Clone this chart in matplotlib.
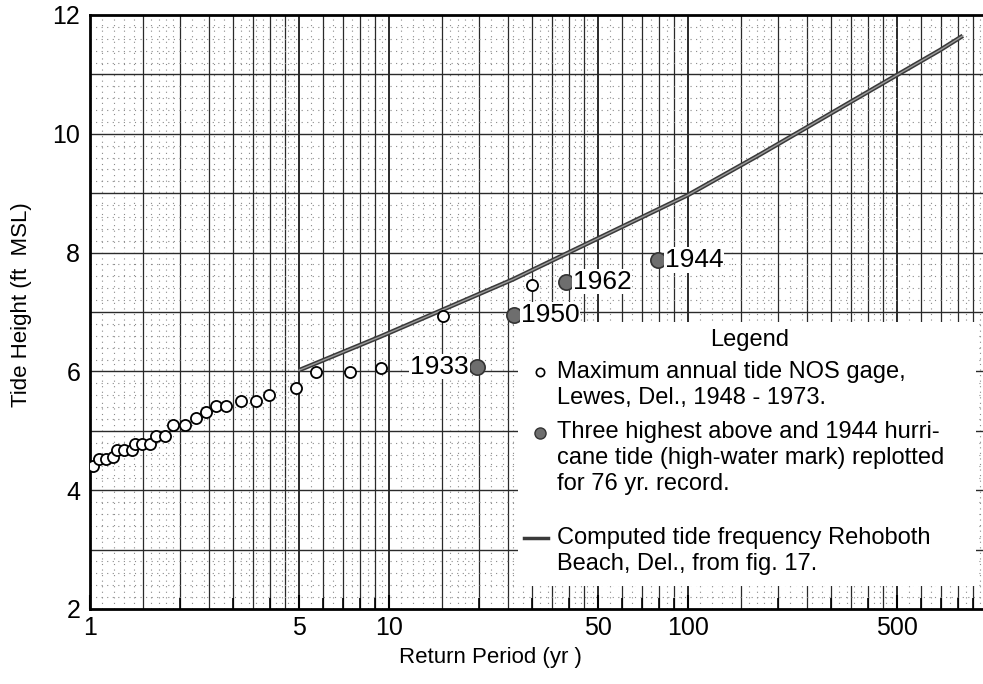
import numpy as np
import matplotlib
matplotlib.use('Agg')
import matplotlib.pyplot as plt
from matplotlib.patches import Rectangle

plt.rcParams['font.family'] = ['Liberation Sans', 'DejaVu Sans']

# Максимальные годовые уровни (открытые кружки)
annual_T = [1.02, 1.07, 1.13, 1.19, 1.23, 1.30, 1.38, 1.41, 1.49, 1.59, 1.66, 1.78,
            1.90, 2.08, 2.26, 2.44, 2.63, 2.86, 3.21, 3.58, 3.98, 4.88, 5.70, 7.40,
            9.38, 15.1, 30.0]
annual_H = [4.41, 4.53, 4.53, 4.56, 4.68, 4.68, 4.68, 4.78, 4.78, 4.78, 4.92, 4.92,
            5.10, 5.10, 5.21, 5.32, 5.42, 5.42, 5.50, 5.50, 5.61, 5.72, 5.99, 5.99,
            6.05, 6.94, 7.45]

# Пересчитанные максимумы (закрашенные кружки)
storm_years = ['1933', '1950', '1962', '1944']
storm_T = [19.7, 26.2, 39.0, 79.2]
storm_H = [6.08, 6.95, 7.51, 7.88]

# Расчётная кривая
curve_T = [5.0, 9.3, 15.0, 26.0, 100.0, 174.0, 512.0, 697.0, 830.0]
curve_H = [6.02, 6.58, 7.03, 7.55, 8.97, 9.65, 11.02, 11.41, 11.65]

xticks = [1, 5, 10, 50, 100, 500]
yticks = [2, 4, 6, 8, 10, 12]

W, H = 983, 684
fig = plt.figure(figsize=(W / 100, H / 100), dpi=100)
ax = fig.add_axes([90 / W, 75 / H, 897 / W, 594 / H])
ax.set_xscale('log')
ax.set_xlim(1, 1000)
ax.set_ylim(2, 12)


def fpx(x, y):
    return x / W, 1 - y / H


# сетка логарифмической бумаги
solid_m = [1, 1.5, 2, 2.5, 3, 3.5, 4, 4.5, 5, 6, 7, 8, 9]
dot_m = [1.1, 1.2, 1.3, 1.4, 1.6, 1.7, 1.8, 1.9, 2.2, 2.4, 2.6, 2.8, 3.2, 3.4,
         3.6, 3.8, 4.2, 4.4, 4.6, 4.8, 5.5, 6.5, 7.5, 8.5, 9.5]
for d in [1, 10, 100]:
    for m in dot_m:
        ax.axvline(d * m, color='#8a8a8a', lw=0.8, ls=(0, (1, 4)), zorder=1)
    for m in solid_m:
        w = 1.4 if m in (1, 5) else 0.9
        ax.axvline(d * m, color='#2a2a2a', lw=w, zorder=1)
for v in np.arange(2.2, 12, 0.2):
    if abs(v - round(v)) > 0.01:
        ax.axhline(v, color='#8a8a8a', lw=0.8, ls=(0, (1, 4)), zorder=1)
for v in range(3, 12):
    ax.axhline(v, color='#2a2a2a', lw=1.0, zorder=1)

# данные
ax.plot(curve_T, curve_H, color='#3a3a3a', lw=3.2, zorder=3, solid_capstyle='butt')
ax.plot(curve_T, curve_H, color='#9a9a9a', lw=1.0, zorder=3)
ax.plot(annual_T, annual_H, 'o', ms=8, mfc='white', mec='black', mew=1.3, zorder=4)
ax.plot(storm_T, storm_H, 'o', ms=11, mfc='#6e6e6e', mec='#333333', mew=1.2, zorder=4)
for yr, t, h in zip(storm_years, storm_T, storm_H):
    if yr == '1933':
        ax.annotate(yr, (t, h), xytext=(-6, 0), textcoords='offset points',
                    ha='right', va='center', fontsize=19, zorder=5,
                    bbox=dict(fc='white', ec='none', pad=0.5))
    else:
        ax.annotate(yr, (t, h), xytext=(5, 0), textcoords='offset points',
                    ha='left', va='center', fontsize=19, zorder=5,
                    bbox=dict(fc='white', ec='none', pad=0.5))

# легенда
ax.add_patch(Rectangle(((518 - 90) / 897, (609 - 586) / 594), (976 - 518) / 897,
                       (586 - 322) / 594, transform=ax.transAxes,
                       fc='white', ec='none', zorder=2))
fs = 17
ls = 1.22
fig.text(*fpx(750, 340), 'Legend', ha='center', va='center', fontsize=fs)
fig.text(*fpx(557, 385), 'Maximum annual tide NOS gage,\nLewes, Del., 1948 - 1973.',
         ha='left', va='center', fontsize=fs, linespacing=ls)
fig.text(*fpx(557, 458), 'Three highest above and 1944 hurri-\n'
         'cane tide (high-water mark) replotted\nfor 76 yr. record.',
         ha='left', va='center', fontsize=fs, linespacing=ls)
fig.text(*fpx(557, 551), 'Computed tide frequency Rehoboth\nBeach, Del., from fig. 17.',
         ha='left', va='center', fontsize=fs, linespacing=ls)
fig.add_artist(plt.Line2D([fpx(540, 0)[0]], [fpx(0, 372)[1]], marker='o', ms=6,
                          mfc='white', mec='black', mew=1.2))
fig.add_artist(plt.Line2D([fpx(540, 0)[0]], [fpx(0, 433)[1]], marker='o', ms=8,
                          mfc='#6e6e6e', mec='#333333', mew=1.0))
fig.add_artist(plt.Line2D([fpx(524, 0)[0], fpx(548, 0)[0]], [fpx(0, 538)[1]] * 2,
                          color='#3a3a3a', lw=2.5))

# оси
ax.set_xticks(xticks)
ax.set_xticklabels([str(t) for t in xticks])
ax.set_xticks([d * m for d in [1, 10, 100] for m in range(2, 10)], minor=True)
ax.xaxis.set_minor_formatter(matplotlib.ticker.NullFormatter())
ax.tick_params(axis='x', which='major', direction='in', length=10, width=1.5,
               labelsize=18, pad=5)
ax.tick_params(axis='x', which='minor', direction='in', length=8, width=1.2)
ax.set_yticks(yticks)
ax.tick_params(axis='y', length=0, labelsize=18, pad=7)
for s in ax.spines.values():
    s.set_linewidth(2)
ax.spines['right'].set_visible(False)

fig.text(*fpx(490, 657), 'Return Period (yr )', ha='center', va='center', fontsize=16)
fig.text(*fpx(22, 305), 'Tide Height (ft  MSL)', ha='center', va='center',
         fontsize=16, rotation=90)

fig.savefig('out.png', dpi=100)
